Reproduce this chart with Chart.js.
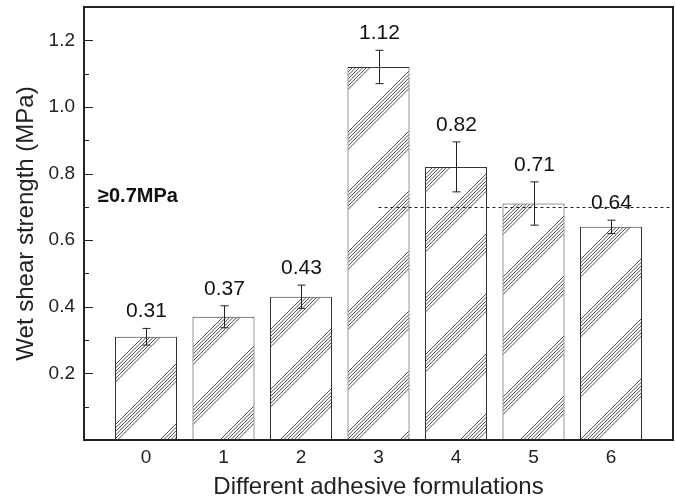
<!DOCTYPE html>
<html lang="en">
<head>
<meta charset="UTF-8">
<title>Wet shear strength</title>
<script src="https://cdn.jsdelivr.net/npm/chart.js"></script>
<style>
    body { margin: 0; background: #fff; }
    .grafico { width: 675px; height: 502px; }
</style>
</head>
<body>
<div class="grafico">
    <canvas id="graficoShear"></canvas>
</div>
<script>
    // data
    const formulations = [0, 1, 2, 3, 4, 5, 6];
    const strength = [0.31, 0.37, 0.43, 1.12, 0.82, 0.71, 0.64];
    const errUp = [0.025, 0.033, 0.035, 0.05, 0.075, 0.065, 0.02];
    const errDown = [0.025, 0.033, 0.035, 0.05, 0.075, 0.065, 0.02];
    const yTicks = [0.2, 0.4, 0.6, 0.8, 1.0, 1.2];
    const yMinor = [0.1, 0.3, 0.5, 0.7, 0.9, 1.1];
    const threshold = 0.7;
    const thresholdFrom = 3;
    const thresholdText = '\u22650.7MPa';

    const FONT = '"Liberation Sans", Arial, sans-serif';
    const INK = '#222';

    // diagonal hatch, bands of thin lines
    function hatch() {
        const S = 60;
        const c = document.createElement('canvas');
        c.width = S; c.height = S;
        const g = c.getContext('2d');
        g.fillStyle = '#fff';
        g.fillRect(0, 0, S, S);
        g.strokeStyle = '#3a3a3a';
        g.lineWidth = 0.9;
        const offs = [0, 3.5, 7, 10.5, 14, 17.5];
        offs.forEach(function (o) {
            [o, o + S].forEach(function (k) {
                g.beginPath();
                g.moveTo(k, 0);
                g.lineTo(k - S, S);
                g.stroke();
            });
        });
        return g.createPattern(c, 'repeat');
    }

    const extras = {
        id: 'extras',
        afterDatasetsDraw(chart) {
            const ctx = chart.ctx;
            const a = chart.chartArea;
            const xs = chart.scales.x;
            const ys = chart.scales.y;
            const meta = chart.getDatasetMeta(0);
            ctx.save();

            // threshold line
            ctx.strokeStyle = INK;
            ctx.lineWidth = 1;
            ctx.setLineDash([3, 3]);
            const yt = Math.round(ys.getPixelForValue(threshold)) + 0.5;
            ctx.beginPath();
            ctx.moveTo(xs.getPixelForValue(thresholdFrom), yt);
            ctx.lineTo(a.right, yt);
            ctx.stroke();
            ctx.setLineDash([]);

            // error bars + value labels
            for (let i = 0; i < strength.length; i++) {
                const x = Math.round(meta.data[i].x) + 0.5;
                const top = ys.getPixelForValue(strength[i] + errUp[i]);
                const bot = ys.getPixelForValue(strength[i] - errDown[i]);
                ctx.beginPath();
                ctx.moveTo(x, top); ctx.lineTo(x, bot);
                ctx.moveTo(x - 4, top); ctx.lineTo(x + 4, top);
                ctx.moveTo(x - 4, bot); ctx.lineTo(x + 4, bot);
                ctx.stroke();

                ctx.fillStyle = '#111';
                ctx.font = '21px ' + FONT;
                ctx.textAlign = 'center';
                ctx.textBaseline = 'middle';
                ctx.fillText(strength[i].toFixed(2), x, top - 17);
            }

            ctx.font = 'bold 20px ' + FONT;
            ctx.textAlign = 'left';
            ctx.fillText(thresholdText, a.left + 14, ys.getPixelForValue(0.73));

            // inward ticks on y axis
            ctx.lineWidth = 1;
            ctx.beginPath();
            yTicks.forEach(function (v) {
                const y = Math.round(ys.getPixelForValue(v)) + 0.5;
                ctx.moveTo(a.left, y); ctx.lineTo(a.left + 9, y);
            });
            yMinor.forEach(function (v) {
                const y = Math.round(ys.getPixelForValue(v)) + 0.5;
                ctx.moveTo(a.left, y); ctx.lineTo(a.left + 5, y);
            });
            ctx.stroke();

            // frame
            ctx.lineWidth = 2;
            ctx.strokeStyle = INK;
            ctx.strokeRect(a.left, a.top, a.right - a.left, a.bottom - a.top);
            ctx.restore();
        }
    };

    new Chart(document.getElementById('graficoShear'), {
        type: 'bar',
        data: {
            datasets: [{
                data: formulations.map(function (f, i) { return { x: f, y: strength[i] }; }),
                backgroundColor: hatch(),
                borderColor: '#333',
                borderWidth: 1,
                categoryPercentage: 1.0,
                barPercentage: 0.8
            }]
        },
        options: {
            responsive: true,
            maintainAspectRatio: false,
            animation: false,
            layout: { padding: { top: 7, right: 2, left: 0, bottom: 0 } },
            plugins: { legend: { display: false }, tooltip: { enabled: false } },
            scales: {
                x: {
                    type: 'linear',
                    offset: false,
                    min: -0.8,
                    max: 6.8,
                    grid: { display: false, drawTicks: false },
                    border: { display: false },
                    afterBuildTicks: function (s) { s.ticks = formulations.map(function (v) { return { value: v }; }); },
                    afterFit: function (s) { s.height = 62; s.paddingLeft = 0; s.paddingRight = 0; },
                    ticks: {
                        color: INK,
                        padding: 6,
                        font: { family: FONT, size: 19 },
                        callback: function (v) { return String(v); }
                    },
                    title: {
                        display: true,
                        text: 'Different adhesive formulations',
                        color: INK,
                        font: { family: FONT, size: 24 },
                        padding: { top: 0, bottom: 0 }
                    }
                },
                y: {
                    min: 0,
                    max: 1.3,
                    grid: { display: false, drawTicks: false },
                    border: { display: false },
                    afterBuildTicks: function (s) { s.ticks = yTicks.map(function (v) { return { value: v }; }); },
                    afterFit: function (s) { s.width = 84; s.paddingTop = 0; s.paddingBottom = 0; },
                    ticks: {
                        color: INK,
                        padding: 9,
                        font: { family: FONT, size: 19 },
                        callback: function (v) { return v.toFixed(1); }
                    },
                    title: {
                        display: true,
                        text: 'Wet shear strength (MPa)',
                        color: INK,
                        font: { family: FONT, size: 24 },
                        padding: { top: 12, bottom: 0 }
                    }
                }
            }
        },
        plugins: [extras]
    });
</script>
</body>
</html>
